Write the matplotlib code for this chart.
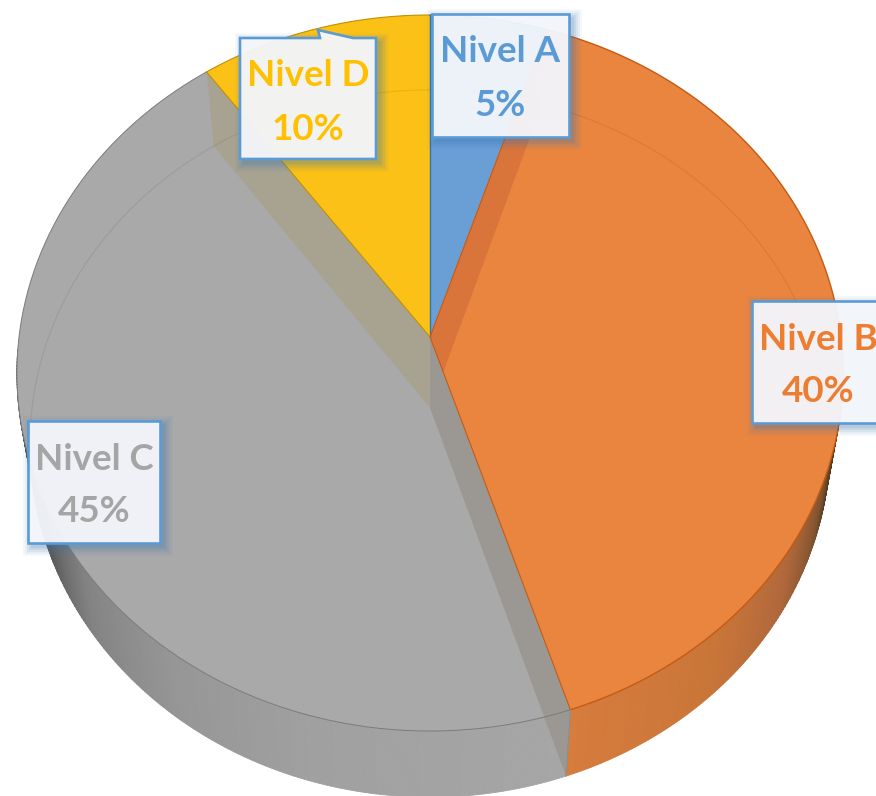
import matplotlib
matplotlib.use('Agg')
import matplotlib.pyplot as plt
import matplotlib.patches as patches
from matplotlib.colors import to_rgb
import numpy as np

# Chart data
labels = ['Nivel A', 'Nivel B', 'Nivel C', 'Nivel D']
values = [5, 40, 45, 10]

FACE_COLORS = ['#6a9fd6', '#ea8540', '#a9a9a9', '#fcc116']
TEXT_COLORS = ['#5b9bd5', '#ed7d31', '#a5a5a5', '#ffc000']
BORDER = '#5b9bd5'

# Picture is laid out in pixels
fig = plt.figure(figsize=(8.76, 7.96), dpi=100)
ax = fig.add_axes([0, 0, 1, 1])
ax.set_xlim(0, 876)
ax.set_ylim(796, 0)
ax.axis('off')

# Top and bottom disc of the pie seen in perspective
TOP = dict(cx=430, cy=337, a=411, b=354.4, k=0.1006)
BOTTOM = dict(cx=430, cy=408, a=398, b=350, k=0.1006)


def project(theta, disc, r=1.0):
    t = np.radians(theta)
    w = 1 + disc['k'] * r * np.cos(t)
    return (disc['cx'] + disc['a'] * r * np.sin(t) / w,
            disc['cy'] - disc['b'] * r * np.cos(t) / w)


def rim(start, end, disc, n=200):
    x, y = project(np.linspace(start, end, n), disc)
    return np.column_stack([x, y])


def wall_color(theta, stops):
    th = [s[0] for s in stops]
    rgb = np.array([to_rgb(s[1]) for s in stops])
    return [np.interp(theta, th, rgb[:, i]) for i in range(3)]


def side_wall(start, end, stops, zorder=1):
    # outer wall as thin strips so it can be shaded along the rim
    steps = np.linspace(start, end, int(abs(end - start) * 2) + 1)
    for t0, t1 in zip(steps[:-1], steps[1:]):
        pts = np.vstack([rim(t0, t1, TOP, 3), rim(t1, t0, BOTTOM, 3)])
        c = wall_color((t0 + t1) / 2, stops)
        ax.add_patch(patches.Polygon(pts, closed=True, facecolor=c, edgecolor=c,
                                     linewidth=0.6, zorder=zorder))


def inner_wall(theta, color, alpha=1.0):
    pts = [(TOP['cx'], TOP['cy']), project(theta, TOP), project(theta, BOTTOM),
           (BOTTOM['cx'], BOTTOM['cy'])]
    ax.add_patch(patches.Polygon(pts, closed=True, facecolor=color, edgecolor='none',
                                 alpha=alpha, zorder=4))


def label_box(x0, y0, x1, y1, name, pct, color, notch=False):
    # soft shadow from stacked rectangles
    for grow, alpha in zip([9, 7, 5, 3, 1], [0.05, 0.07, 0.09, 0.11, 0.13]):
        ax.add_patch(patches.Rectangle((x0 + 4 - grow, y0 + 4 - grow),
                                       x1 - x0 + 2 * grow, y1 - y0 + 2 * grow,
                                       facecolor='#3f78b0', edgecolor='none',
                                       alpha=alpha, zorder=7))
    if notch:
        pts = [(x0, y0), (x0 + 80, y0), (x0 + 78, y0 - 8), (x0 + 113, y0), (x1, y0),
               (x1, y1), (x0, y1)]
    else:
        pts = [(x0, y0), (x1, y0), (x1, y1), (x0, y1)]
    ax.add_patch(patches.Polygon(pts, closed=True, facecolor='#f7f8fc', alpha=0.94,
                                 edgecolor='none', zorder=8))
    ax.add_patch(patches.Polygon(pts, closed=True, facecolor='none', edgecolor=BORDER,
                                 linewidth=1.9, joinstyle='miter', zorder=9))
    xc = (x0 + x1) / 2
    for text, yy in [(name, y0 + 38), (pct, y0 + 91)]:
        ax.text(xc, yy, text, color=color, fontsize=26.5, fontweight='bold',
                family=['Lato', 'DejaVu Sans'], ha='center', va='center', zorder=10)


# Slice limits in degrees, clockwise from the top
edges = np.concatenate([[0], np.cumsum(values)]) / sum(values) * 360

# Outer walls, orange on the right and grey on the left
side_wall(95, edges[2], [(95, '#2e2118'), (104, '#3d2b1c'), (113, '#80532f'), (125, '#b0673a'),
                         (140, '#c97538'), (edges[2], '#d67c3c')])
side_wall(edges[2], 268, [(edges[2], '#a6a6a6'), (195, '#a0a0a0'), (215, '#969696'),
                          (232, '#838383'), (245, '#5c5c5c'), (268, '#4a4a4a')])

# Top faces
for i in range(4):
    pts = np.vstack([[(TOP['cx'], TOP['cy'])], rim(edges[i], edges[i + 1], TOP)])
    ax.add_patch(patches.Polygon(pts, closed=True, facecolor=FACE_COLORS[i],
                                 edgecolor='none', zorder=2))

# Walls between slices, seen through the faces
inner_wall(edges[1], '#d9743a')
inner_wall(edges[2], '#9b9893')
inner_wall(edges[3], '#a8a391')

# Far rim of the bottom disc shows faintly through the faces
back = rim(-92, 92, BOTTOM)
ax.plot(back[:, 0], back[:, 1], color='#000000', alpha=0.08, lw=0.8, zorder=5)

# Rim lines of the top face
r = rim(edges[1], edges[2], TOP)
ax.plot(r[:, 0], r[:, 1], color='#c55a11', lw=1.0, zorder=5)
r = rim(edges[2], edges[3], TOP)
ax.plot(r[:, 0], r[:, 1], color='#7b7b7b', lw=0.7, zorder=5)
r = rim(edges[3], 360, TOP)
ax.plot(r[:, 0], r[:, 1], color='#bf9000', lw=0.8, zorder=5)
r = rim(0, edges[1], TOP)
ax.plot(r[:, 0], r[:, 1], color='#2e75b6', lw=0.8, zorder=5)

# Slice edges on the top face
ax.plot([TOP['cx'], TOP['cx']], [TOP['cy'], TOP['cy'] - TOP['b'] / (1 + TOP['k'])],
        color='#2e75b6', lw=1.0, zorder=5)
px, py = project(edges[1], TOP)
ax.plot([TOP['cx'], px], [TOP['cy'], py], color='#c55a11', lw=0.8, zorder=5)
px, py = project(edges[2], TOP)
ax.plot([TOP['cx'], px], [TOP['cy'], py], color='#c55a11', lw=0.8, zorder=5)
px2, py2 = project(edges[2], BOTTOM)
ax.plot([px, px2], [py, py2], color='#8c8c8c', lw=0.8, zorder=5)
px, py = project(edges[3], TOP)
ax.plot([TOP['cx'], px], [TOP['cy'], py], color='#bf9000', lw=0.8, zorder=5)

# Data labels
label_box(432, 14, 569, 137, labels[0], f'{values[0]}%', TEXT_COLORS[0])
label_box(752, 301, 884, 423, labels[1], f'{values[1]}%', TEXT_COLORS[1])
label_box(28, 421, 160, 543, labels[2], f'{values[2]}%', TEXT_COLORS[2])
label_box(240, 38, 376, 159, labels[3], f'{values[3]}%', TEXT_COLORS[3], notch=True)

fig.savefig('out.png', dpi=100)
